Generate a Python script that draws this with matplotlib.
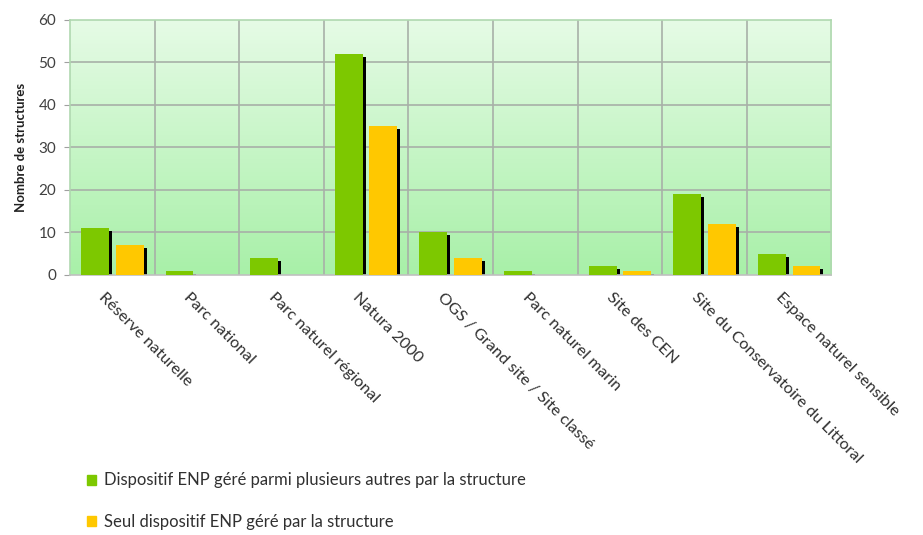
import numpy as np
import matplotlib
matplotlib.use("Agg")
import matplotlib.pyplot as plt
import matplotlib.transforms as mtransforms
from matplotlib.patches import Patch

plt.rcParams['font.family'] = ['Lato', 'DejaVu Sans']

categories = ["Réserve naturelle", "Parc national", "Parc naturel régional", "Natura 2000",
              "OGS / Grand site / Site classé", "Parc naturel marin", "Site des CEN",
              "Site du Conservatoire du Littoral", "Espace naturel sensible"]
plusieurs = [11, 1, 4, 52, 10, 1, 2, 19, 5]
seul = [7, 0, 0, 35, 4, 0, 1, 12, 2]
series_labels = ["Dispositif ENP géré parmi plusieurs autres par la structure",
                 "Seul dispositif ENP géré par la structure"]
yticks = [0, 10, 20, 30, 40, 50, 60]

green = "#7dc800"
yellow = "#ffc800"

fig = plt.figure(figsize=(9.23, 5.35), dpi=100)
ax = fig.add_axes([0.0758, 0.486, 0.825, 0.477])

n = len(categories)
x = np.arange(n)
ax.set_xlim(-0.5, n - 0.5)
ax.set_ylim(0, 60)

# gradient background
grad = np.linspace(0, 1, 256).reshape(-1, 1)
top = np.array([230, 251, 230]) / 255
bot = np.array([168, 240, 168]) / 255
img = top[None, None, :] * (1 - grad[..., None]) + bot[None, None, :] * grad[..., None]
ax.imshow(img, extent=(-0.5, n - 0.5, 0, 60), aspect='auto', zorder=0, origin='upper')

# grid
for yv in yticks[1:-1]:
    ax.axhline(yv, color="#a8b0a8", lw=1.2, zorder=1)
for xv in np.arange(0.5, n - 0.5, 1):
    ax.axvline(xv, color="#a8b0a8", lw=1.2, zorder=1)

w = 0.33
off = 0.205
shadow = mtransforms.offset_copy(ax.transData, fig=fig, x=3, y=-3, units='dots')
for vals, dx, col in [(plusieurs, -off, green), (seul, off, yellow)]:
    sh = ax.bar(x + dx, vals, width=w, color="black", zorder=2, linewidth=0)
    for p in sh:
        p.set_transform(shadow)
    ax.bar(x + dx, vals, width=w, color=col, zorder=3, linewidth=0)

ax.set_yticks(yticks)
ax.set_yticklabels([str(v) for v in yticks], fontsize=11, color="#404040")
ax.tick_params(axis='y', length=4, color="#a0a0a0", pad=6)
ax.set_xticks(x)
ax.set_xticklabels(categories, rotation=-45, ha='left', va='top', rotation_mode='anchor',
                   fontsize=11.8, color="#303030")
ax.tick_params(axis='x', length=0, pad=11)
for lbl in ax.get_xticklabels():
    lbl.set_transform(lbl.get_transform() + mtransforms.ScaledTranslation(-0.06, 0, fig.dpi_scale_trans))

for s in ax.spines.values():
    s.set_color("#b0d8b0")
    s.set_linewidth(1.2)
ax.spines['bottom'].set_color("#c0c0c0")

ax.set_ylabel("Nombre de structures", fontsize=9.5, fontweight='bold', color="#202020", labelpad=8)

handles = [Patch(color=green), Patch(color=yellow)]
fig.legend(handles, series_labels, loc='upper left', bbox_to_anchor=(0.078, 0.145),
           frameon=False, fontsize=12, labelspacing=1.55, handlelength=0.55, handleheight=0.55,
           handletextpad=0.45, labelcolor="#303030")

fig.savefig("out.png", dpi=100)
